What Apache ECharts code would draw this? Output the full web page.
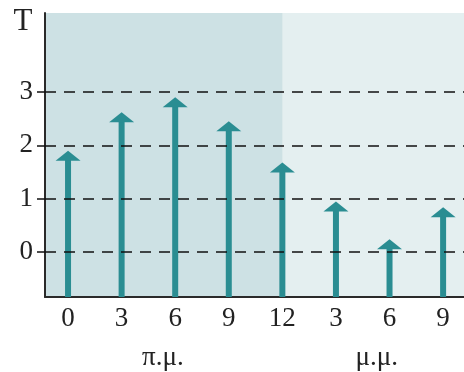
<!DOCTYPE html>
<html><head><meta charset="utf-8">
<script src="https://cdn.jsdelivr.net/npm/echarts@6/dist/echarts.min.js"></script>
<style>html,body{margin:0;padding:0;background:#fff}#c{width:464px;height:372px}</style>
</head><body><div id="c"></div>
<script>
const hourLabels = ['0', '3', '6', '9', '12', '3', '6', '9'];
const temps = [1.9, 2.62, 2.9, 2.45, 1.68, 0.95, 0.24, 0.84];
const yTicks = [0, 1, 2, 3];
const periodLabels = ['π.μ.', 'μ.μ.'];
const periodCenters = [1.77, 5.76];
const amEndIndex = 4;
const yName = 'T';

const FONT = 'Liberation Serif';
const TEAL = '#2a8d92';
const X_MIN = -0.43, X_MAX = 7.39, Y_MIN = -0.84, Y_MAX = 4.48;

const chart = echarts.init(document.getElementById('c'), null, {renderer: 'canvas'});
const xIdx = hourLabels.map((_, i) => i);

chart.setOption({
  animation: false,
  grid: {left: 45, right: 0, top: 13, bottom: 75, show: true, backgroundColor: '#e4eff0', borderWidth: 0},
  xAxis: {
    type: 'value', min: X_MIN, max: X_MAX, z: 2,
    axisLine: {show: true, onZero: false, lineStyle: {color: '#2a2a2a', width: 2}},
    axisTick: {show: false},
    splitLine: {show: false},
    axisLabel: {
      customValues: xIdx, margin: 8,
      formatter: v => hourLabels[Math.round(v)],
      fontFamily: FONT, fontSize: 27, color: '#222'
    }
  },
  yAxis: {
    type: 'value', min: Y_MIN, max: Y_MAX, z: 2,
    axisLine: {show: true, onZero: false, lineStyle: {color: '#2a2a2a', width: 2}},
    axisTick: {show: true, customValues: yTicks, length: 8, lineStyle: {color: '#111', width: 1.5}},
    splitLine: {show: false},
    axisLabel: {customValues: yTicks, margin: 12, fontFamily: FONT, fontSize: 27, color: '#222'}
  },
  series: [
    {
      type: 'custom', silent: true, z: 1,
      data: [[X_MIN, amEndIndex]],
      renderItem: (params, api) => {
        const cs = params.coordSys;
        const x0 = api.coord([api.value(0), 0])[0];
        const x1 = api.coord([api.value(1), 0])[0];
        return {type: 'rect', shape: {x: x0, y: cs.y, width: x1 - x0, height: cs.height}, style: {fill: '#cde1e4'}};
      },
      markLine: {
        silent: true, symbol: 'none', label: {show: false},
        lineStyle: {color: '#111', width: 1.5, type: [11, 8]},
        data: yTicks.map(v => ({yAxis: v}))
      }
    },
    {
      type: 'custom', z: 3,
      data: temps.map((t, i) => [i, t]),
      renderItem: (params, api) => {
        const cs = params.coordSys;
        const tip = api.coord([api.value(0), api.value(1)]);
        const bottom = cs.y + cs.height;
        const headH = 10, headW = 25, shaftW = 6;
        return {
          type: 'group',
          children: [
            {type: 'rect', shape: {x: tip[0] - shaftW / 2, y: tip[1] + headH - 1, width: shaftW, height: bottom - tip[1] - headH + 1}, style: {fill: TEAL}},
            {type: 'polygon', shape: {points: [[tip[0], tip[1]], [tip[0] + headW / 2, tip[1] + headH], [tip[0] - headW / 2, tip[1] + headH]]}, style: {fill: TEAL}}
          ]
        };
      }
    }
  ]
});

const periodText = periodLabels.map((s, k) => ({
  type: 'text', x: chart.convertToPixel({xAxisIndex: 0}, periodCenters[k]), y: 358,
  style: {text: s, font: '27px "Liberation Serif"', fill: '#222', textAlign: 'center', textVerticalAlign: 'middle'}
}));
chart.setOption({
  graphic: periodText.concat([{
    type: 'text', x: 23, y: 22,
    style: {text: yName, font: '31px "Liberation Serif"', fill: '#222', textAlign: 'center', textVerticalAlign: 'middle'}
  }])
});
</script>
</body></html>
